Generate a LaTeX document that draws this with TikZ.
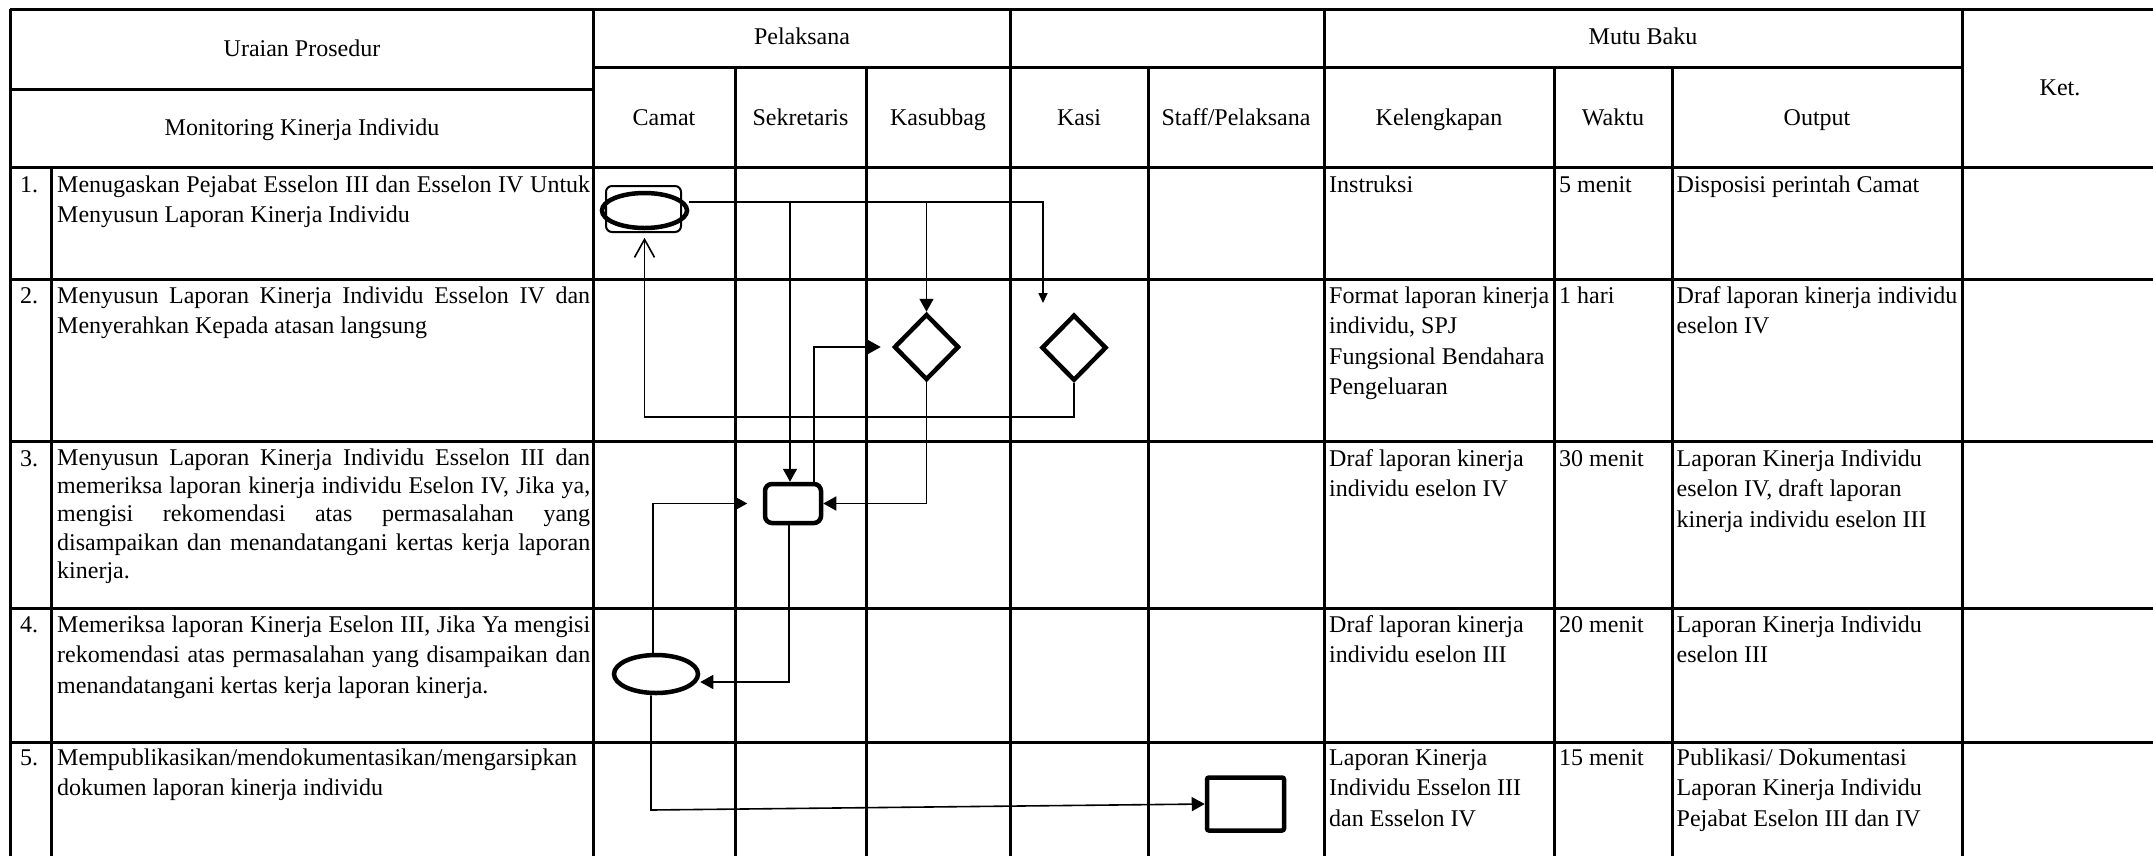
\documentclass[tikz,border=0pt]{standalone}
\usepackage{fontspec}
\setmainfont{Liberation Serif}
\usetikzlibrary{shapes.geometric,arrows.meta}
\newcommand{\jl}[1]{\makebox[533pt][s]{#1}}
\begin{document}
\begin{tikzpicture}[x=1pt,y=-1pt,
  grid/.style={line width=3pt},
  txt/.style={font=\fontsize{24}{30.5}\selectfont, inner sep=0pt, anchor=base west, align=flush left,
    execute at begin node={\spaceskip=0pt\xspaceskip=0pt\relax}},
  hdr/.style={font=\fontsize{24}{30.5}\selectfont, inner sep=0pt, anchor=base},
  desc/.style={txt, text width=533pt},
  rc/.style={txt, text width=300pt},
  conn/.style={line width=1.6pt},
  arr/.style={conn, -{Triangle[length=13pt,width=14pt]}},
  shp/.style={draw, line width=4.5pt, inner sep=0pt, fill=white},
]
\useasboundingbox (0,0) rectangle (2153,855);
\clip (0,0) rectangle (2153,855);

% ---- table grid ----
\draw[grid] (10,9) -- (2165,9);
\draw[grid] (593,67.5) -- (1962,67.5);
\draw[grid] (10,89) -- (593,89);
\foreach \yy in {167,279,441.5,608,742} \draw[grid] (10,\yy) -- (2165,\yy);
\foreach \xx in {10,593,1010,1324,1962} \draw[grid] (\xx,9) -- (\xx,870);
\draw[grid] (51,167) -- (51,870);
\foreach \xx in {735,866,1148.5,1554,1672} \draw[grid] (\xx,67.5) -- (\xx,870);

% ---- headers ----
\node[hdr] (hUr) at (302,56) {Uraian Prosedur};
\node[hdr] (hMon) at (302,135) {Monitoring Kinerja Individu};
\node[hdr] (hPel) at (802,44) {Pelaksana};
\node[hdr] (hMutu) at (1643,44) {Mutu Baku};
\node[hdr] (hKet) at (2060,95) {Ket.};
\node[hdr] (hCam) at (664,125) {Camat};
\node[hdr] (hSek) at (800.5,125) {Sekretaris};
\node[hdr] (hKas) at (938,125) {Kasubbag};
\node[hdr] (hKasi) at (1079,125) {Kasi};
\node[hdr] (hStaff) at (1236,125) {Staff/Pelaksana};
\node[hdr] (hKel) at (1439,125) {Kelengkapan};
\node[hdr] (hWak) at (1613,125) {Waktu};
\node[hdr] (hOut) at (1817,125) {Output};

% ---- rows: numbers and descriptions ----
\node[txt] (n1) at (20,192) {1.};
\node[txt] (n2) at (20,303) {2.};
\node[txt] (n3) at (20,466) {3.};
\node[txt] (n4) at (20,632) {4.};
\node[txt] (n5) at (20,765) {5.};

\node[desc] (d1) at (57,192) {\jl{Menugaskan Pejabat Esselon III dan Esselon IV Untuk}\\Menyusun Laporan Kinerja Individu};
\node[desc] (d2) at (57,303) {\jl{Menyusun Laporan Kinerja Individu Esselon IV dan}\\Menyerahkan Kepada atasan langsung};
\node[desc, font=\fontsize{24}{28.4}\selectfont] (d3) at (57,465) {\jl{Menyusun Laporan Kinerja Individu Esselon III dan}\\\jl{memeriksa laporan kinerja individu Eselon IV, Jika ya,}\\\jl{mengisi rekomendasi atas permasalahan yang}\\\jl{disampaikan dan menandatangani kertas kerja laporan}\\kinerja.};
\node[desc] (d4) at (57,632) {\jl{Memeriksa laporan Kinerja Eselon III, Jika Ya mengisi}\\\jl{rekomendasi atas permasalahan yang disampaikan dan}\\menandatangani kertas kerja laporan kinerja.};
\node[desc] (d5) at (57,765) {Mempublikasikan/mendokumentasikan/mengarsipkan\\dokumen laporan kinerja individu};

% ---- mutu baku columns ----
\node[rc] (k1) at (1329,192) {Instruksi};
\node[rc] (w1) at (1559,192) {5 menit};
\node[rc] (o1) at (1676.5,192) {Disposisi perintah Camat};
\node[rc] (k2) at (1329,303) {Format laporan kinerja\\individu, SPJ\\Fungsional Bendahara\\Pengeluaran};
\node[rc] (w2) at (1559,303) {1 hari};
\node[rc] (o2) at (1676.5,303) {Draf laporan kinerja individu\\eselon IV};
\node[rc] (k3) at (1329,466) {Draf laporan kinerja\\individu eselon IV};
\node[rc] (w3) at (1559,466) {30 menit};
\node[rc] (o3) at (1676.5,466) {Laporan Kinerja Individu\\eselon IV, draft laporan\\kinerja individu eselon III};
\node[rc] (k4) at (1329,632) {Draf laporan kinerja\\individu eselon III};
\node[rc] (w4) at (1559,632) {20 menit};
\node[rc] (o4) at (1676.5,632) {Laporan Kinerja Individu\\eselon III};
\node[rc] (k5) at (1329,765) {Laporan Kinerja\\Individu Esselon III\\dan Esselon IV};
\node[rc] (w5) at (1559,765) {15 menit};
\node[rc] (o5) at (1676.5,765) {Publikasi/ Dokumentasi\\Laporan Kinerja Individu\\Pejabat Eselon III dan IV};

% ---- flow shapes ----
\node[draw, line width=2pt, rounded corners=6pt, inner sep=0pt, minimum width=75pt, minimum height=46pt] (s1box) at (643.5,209) {};
\node[shp, ellipse, minimum width=85pt, minimum height=35pt, fill=none] (s1) at (644.5,210.5) {};
\node[shp, diamond, minimum width=65pt, minimum height=66pt] (dA) at (926.5,347) {};
\node[shp, diamond, minimum width=65pt, minimum height=66pt] (dB) at (1074,347.7) {};
\node[shp, rounded corners=7pt, minimum width=56pt, minimum height=39pt] (r3) at (793,503.5) {};
\node[shp, ellipse, minimum width=84pt, minimum height=38pt] (e4) at (656,674) {};
\node[shp, rounded corners=2pt, minimum width=77pt, minimum height=53pt] (r5) at (1245.5,804) {};

% ---- connectors ----
\coordinate (kc) at (1043,202);
\coordinate (kt) at (1043,303);
\coordinate (b1) at (790,202);
\coordinate (b2) at (926.5,202);
\coordinate (c1) at (644.5,417);
\coordinate (c2) at (651,810);

\draw[conn, -{Triangle[length=10pt,width=9pt]}] ([yshift=8.5pt]s1.east) -- (kc) -- (kt);
\draw[arr] (b1) -- (b1 |- r3.north);
\draw[arr] (b2) -- (dA.north);
\draw[arr, shorten >=11pt] ([xshift=21pt]r3.north) |- (dA.west);
\draw[arr] (dA.south) |- (r3.east);
\draw[conn, -{Straight Barb[length=18pt,width=20pt]}, shorten >=7.5pt] (dB.south) |- (c1) -- (c1 |- s1.south);
\draw[arr, shorten >=15.5pt] ([xshift=-3pt]e4.north) |- (r3.west);
\draw[arr] ([xshift=-4pt]r3.south) |- ([yshift=-8pt]e4.east);
\draw[arr] ([xshift=-5pt]e4.south) -- (c2) -- (r5.west);
\end{tikzpicture}
\end{document}
